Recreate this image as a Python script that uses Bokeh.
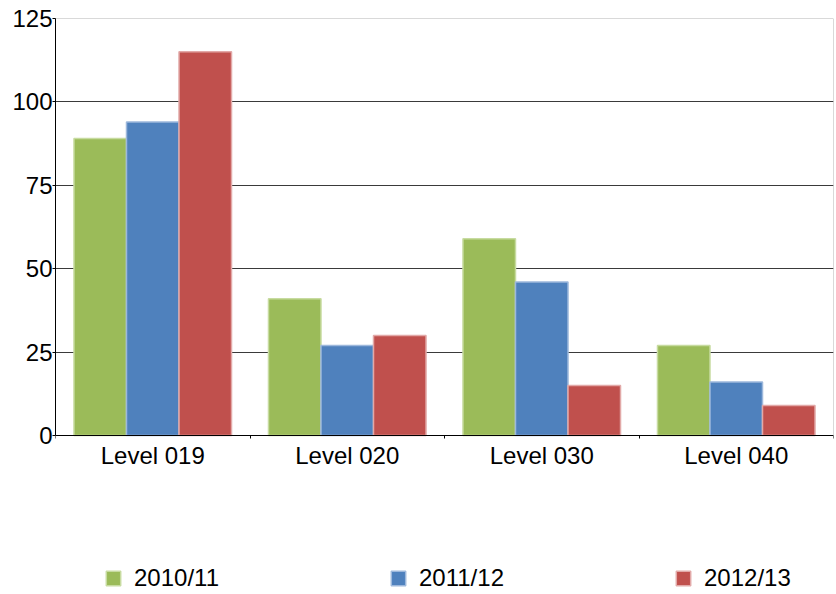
from bokeh.plotting import figure
from bokeh.models import (ColumnDataSource, FixedTicker, Legend, LegendItem, Range1d, BoxAnnotation)
from bokeh.transform import dodge
from bokeh.embed import file_html
from bokeh.resources import INLINE

categories = ["Level 019", "Level 020", "Level 030", "Level 040"]
series_names = ["2010/11", "2011/12", "2012/13"]
v2010 = [89, 41, 59, 27]
v2011 = [94, 27, 46, 16]
v2012 = [115, 30, 15, 9]
y_ticks = [0, 25, 50, 75, 100, 125]
y_max = 125

fills = ["#9BBB59", "#4F81BD", "#C0504D"]
outlines = ["#C7DBA0", "#9DB8DC", "#E2A9A8"]

# layout (pixels): chart area 417 px tall, legend strip 159 px below it
CHART_H, STRIP_H = 417, 159
y_bottom = -y_max * STRIP_H / CHART_H

x = [i + 0.5 for i in range(len(categories))]
src = ColumnDataSource(dict(x=x, a=v2010, b=v2011, c=v2012))

p = figure(frame_width=778, frame_height=CHART_H + STRIP_H, output_backend="svg", toolbar_location=None,
           x_range=Range1d(0, len(categories)), y_range=Range1d(y_bottom, y_max),
           min_border_left=55, min_border_right=3, min_border_top=18, min_border_bottom=0)

bw = 0.27
renderers = []
for col, off, fc, lc in zip(["a", "b", "c"], [-bw, 0, bw], fills, outlines):
    r = p.vbar(x=dodge("x", off), top=col, width=bw, source=src,
               fill_color=fc, line_color=lc, line_width=1.5)
    renderers.append(r)

FONT = "Liberation Sans"
# y axis
p.yaxis.ticker = FixedTicker(ticks=y_ticks)
p.yaxis.bounds = (0, y_max)
p.yaxis.major_tick_out = 3
p.yaxis.major_tick_in = 0
p.yaxis.minor_tick_out = 0
p.yaxis.minor_tick_in = 0
p.yaxis.major_label_standoff = 0
p.yaxis.axis_line_color = "black"
p.yaxis.major_tick_line_color = "black"
# x axis (drawn at y = 0)
p.xaxis.fixed_location = 0
p.xaxis.ticker = FixedTicker(ticks=x, minor_ticks=list(range(len(categories) + 1)))
p.xaxis.major_label_overrides = {xx: c for xx, c in zip(x, categories)}
p.xaxis.major_tick_out = 0
p.xaxis.major_tick_in = 0
p.xaxis.minor_tick_out = 3
p.xaxis.minor_tick_in = 0
p.xaxis.minor_tick_line_color = "black"
p.xaxis.major_label_standoff = 3
p.xaxis.axis_line_color = "black"
for ax in (p.xaxis, p.yaxis):
    ax.major_label_text_font = FONT
    ax.major_label_text_font_size = "24px"
    ax.major_label_text_color = "black"

p.xgrid.grid_line_color = None
p.ygrid.ticker = FixedTicker(ticks=y_ticks[1:-1])
p.ygrid.grid_line_color = "#3a3a3a"
p.ygrid.grid_line_width = 1
p.outline_line_color = None

# border of the chart area
p.add_layout(BoxAnnotation(left=0, right=len(categories), bottom=0, top=y_max,
                           fill_color=None, line_color="black", line_width=1))

legend = Legend(items=[LegendItem(label=n, renderers=[r]) for n, r in zip(series_names, renderers)],
                orientation="horizontal", location=(49, 2),
                glyph_width=18, glyph_height=18, label_standoff=12, spacing=168,
                label_width=87, padding=0, margin=0,
                label_text_font=FONT, label_text_font_size="24px", label_text_color="black",
                border_line_color=None, background_fill_alpha=0)
p.add_layout(legend, "center")

open("out.html", "w").write(file_html(p, INLINE))
